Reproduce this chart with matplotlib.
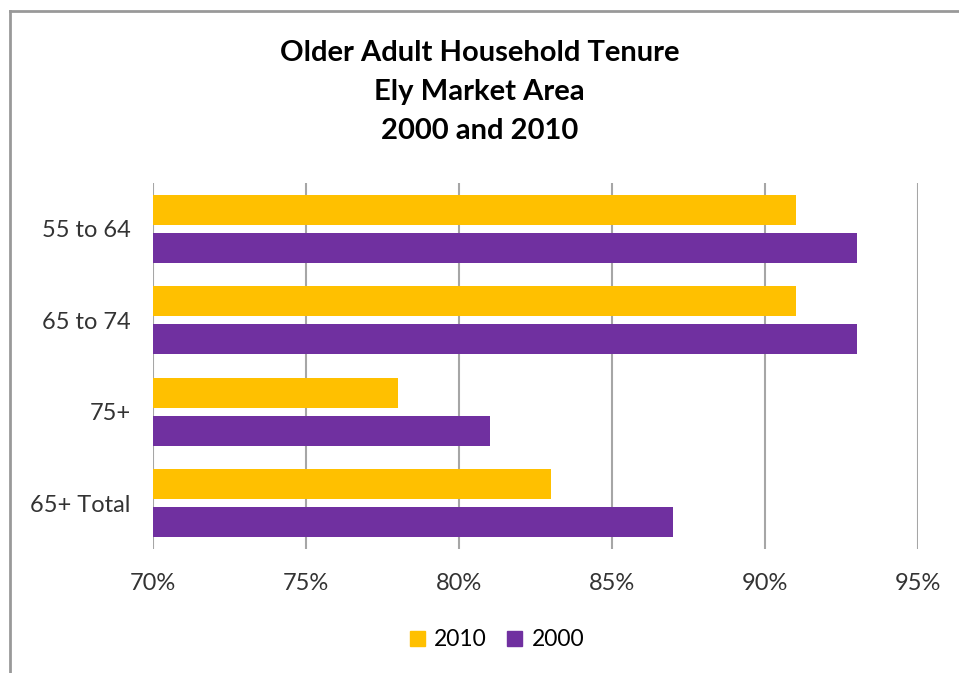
import matplotlib
matplotlib.use("Agg")
import matplotlib.pyplot as plt
from matplotlib.lines import Line2D
from matplotlib.patches import Patch
import numpy as np

categories = ["55 to 64", "65 to 74", "75+", "65+ Total"]
values_2010 = [91, 91, 78, 83]
values_2000 = [93, 93, 81, 87]
series_labels = ["2010", "2000"]
x_ticks = [70, 75, 80, 85, 90, 95]
x_tick_labels = ["70%", "75%", "80%", "85%", "90%", "95%"]
title = "Older Adult Household Tenure\nEly Market Area\n2000 and 2010"

c2010 = "#FFC000"
c2000 = "#7030A0"
font = "Lato"
tcol = "#333333"

W, H = 959, 673
fig = plt.figure(figsize=(W / 100, H / 100), dpi=100)
ax = fig.add_axes([153 / W, (H - 549) / H, 765 / W, 366 / H])

y = np.arange(len(categories))
off = 0.208
h = 0.33
ax.barh(y - off, np.array(values_2010) - 70, left=70, height=h, color=c2010, zorder=3)
ax.barh(y + off, np.array(values_2000) - 70, left=70, height=h, color=c2000, zorder=3)

ax.set_xlim(70, 95)
ax.set_ylim(3.5, -0.5)
ax.set_xticks(x_ticks)
ax.set_xticklabels(x_tick_labels, fontfamily=font, fontsize=17, color=tcol)
ax.set_yticks(y)
ax.set_yticklabels(categories, fontfamily=font, fontsize=17, color=tcol)
ax.tick_params(axis="both", length=0)
ax.tick_params(axis="x", pad=17)
ax.tick_params(axis="y", pad=16)
ax.grid(axis="x", color="#a6a6a6", linewidth=1.5, zorder=0)
ax.set_axisbelow(True)
for s in ax.spines.values():
    s.set_visible(False)

fig.text(0.5, (H - 92) / H, title, ha="center", va="center", fontfamily=font,
         fontweight="bold", fontsize=21, linespacing=1.6, color="#000000")

handles = [Patch(color=c2010, label=series_labels[0]), Patch(color=c2000, label=series_labels[1])]
fig.legend(handles=handles, loc="center", bbox_to_anchor=(497 / W, (H - 640) / H), ncol=2,
           frameon=False, prop={"family": font, "size": 16.5}, handlelength=0.65, handleheight=0.65,
           handletextpad=0.4, columnspacing=0.9)

fig.add_artist(Line2D([10 / W, 1], [(H - 11) / H, (H - 11) / H], color="#999999", lw=2))
fig.add_artist(Line2D([10 / W, 10 / W], [0, (H - 11) / H], color="#999999", lw=2))

fig.savefig("out.png", dpi=100, facecolor="white")
